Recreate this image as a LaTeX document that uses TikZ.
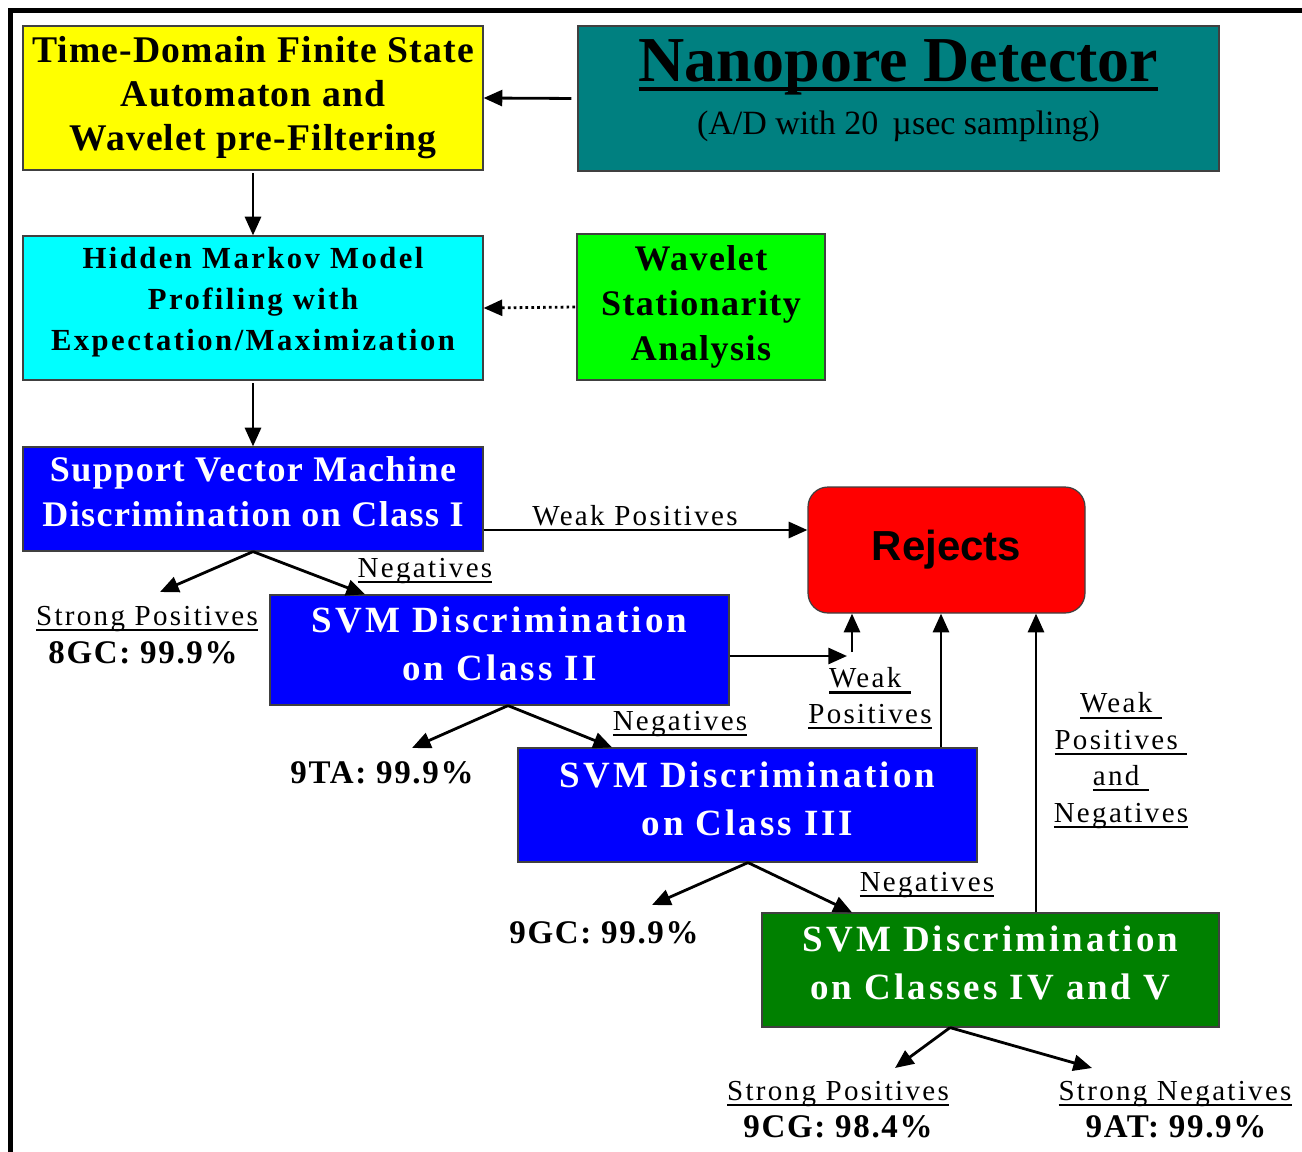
\documentclass[tikz,border=0pt]{standalone}
\usepackage{fontspec}
\setmainfont{Liberation Serif}
\newfontfamily\lsA[LetterSpace=3]{Liberation Serif}
\newfontfamily\lsC[LetterSpace=8]{Liberation Serif}
\newfontfamily\lsG[LetterSpace=4]{Liberation Serif}
\newfontfamily\lsB[LetterSpace=8]{Liberation Serif}
\newfontfamily\lsV[LetterSpace=5]{Liberation Serif}
\newfontfamily\lsL[LetterSpace=8]{Liberation Serif}
\newfontfamily\rejfont{Liberation Sans}
\usetikzlibrary{arrows.meta,calc}
\definecolor{nanoteal}{RGB}{0,128,128}
\definecolor{hmmcyan}{RGB}{0,255,255}
\definecolor{svmblue}{RGB}{0,0,255}
\definecolor{svmgreen}{RGB}{0,128,0}
\definecolor{wslime}{RGB}{0,255,0}
\definecolor{rejred}{RGB}{255,0,0}
\definecolor{fsayellow}{RGB}{255,255,0}
\newcommand\fYel{\lsA\bfseries\fontsize{28.25pt}{33pt}\selectfont}
\newcommand\fCya{\lsC\bfseries\fontsize{23pt}{30.75pt}\selectfont}
\newcommand\fGrn{\lsG\bfseries\fontsize{27pt}{33.75pt}\selectfont}
\newcommand\fBlA{\lsG\bfseries\fontsize{27pt}{33.75pt}\selectfont}
\newcommand\fBlB{\lsB\bfseries\fontsize{27.75pt}{36pt}\selectfont}
\newcommand\fLbl{\lsL\fontsize{21.75pt}{26.5pt}\selectfont}
\newcommand\fVal{\lsV\bfseries\fontsize{24.75pt}{27pt}\selectfont}
\newcommand\fRej{\rejfont\bfseries\fontsize{31.5pt}{36pt}\selectfont}
\newcommand\ulx[3]{\setbox0\hbox{#3}\rlap{\rule[#1]{\wd0}{#2}}\box0}
\newcommand\myul[1]{\ulx{-4.4pt}{1.6pt}{#1}}
\begin{document}
\begin{tikzpicture}[x=0.75pt,y=-0.75pt,
  box/.style={draw=black!75,line width=0.9pt,inner sep=0pt,align=center},
  arr/.style={-{Triangle[length=14pt,width=12pt]},line width=2.1pt},
  lbl/.style={font=\fLbl,inner sep=0pt,anchor=base,align=center},
  val/.style={font=\fVal,inner sep=0pt,anchor=base}]
\useasboundingbox (0,0) rectangle (1302,1152);
\fill[white] (0,0) rectangle (1302,1152);
\draw[line width=3.75pt] (10,1152) -- (10,11) -- (1302,11);

% boxes
\node[box,fill=fsayellow,minimum width=345pt,minimum height=108pt,font=\fYel] (fsa) at (253,98)
  {Time-Domain Finite State\\Automaton and\\Wavelet pre-Filtering};
\node[box,fill=nanoteal,minimum width=480.75pt,minimum height=108.75pt,text depth=17pt,
  font={\bfseries\fontsize{48pt}{40pt}\selectfont}] (nano) at (898.5,98.5)
  {\ulx{-7.5pt}{3pt}{Nanopore Detector}\\{\mdseries\fontsize{25.5pt}{30pt}\selectfont(A/D with 20 \,µsec sampling)}};
\node[box,fill=hmmcyan,minimum width=345pt,minimum height=108pt,text depth=14pt,font=\fCya] (hmm) at (253,308)
  {Hidden Markov Model\\Profiling with\\Expectation/Maximization};
\node[box,fill=wslime,minimum width=186pt,minimum height=109.5pt,font=\fGrn] (wsa) at (701,307)
  {Wavelet\\Stationarity\\Analysis};
\node[box,fill=svmblue,text=white,minimum width=345pt,minimum height=78pt,text depth=11pt,font=\fBlA] (svm1) at (253,499)
  {Support Vector Machine\\Discrimination on Class I};
\node[box,fill=rejred,rounded corners=15pt,minimum width=207.75pt,minimum height=94.5pt,font=\fRej] (rej) at (946.5,550)
  {Rejects};
\node[box,fill=svmblue,text=white,minimum width=344.25pt,minimum height=82.5pt,text depth=10pt,font=\fBlB] (svm2) at (499.5,650)
  {SVM Discrimination\\on Class II};
\node[box,fill=svmblue,text=white,minimum width=344.25pt,minimum height=85.5pt,text depth=10pt,font=\fBlB] (svm3) at (747.5,805)
  {SVM Discrimination\\on Class III};
\node[box,fill=svmgreen,text=white,minimum width=342.75pt,minimum height=85.5pt,text depth=11pt,font=\fBlB] (svm4) at (990.5,970)
  {SVM Discrimination\\on Classes IV and V};

% labels
\node[lbl] (lwp1) at (635,525) {Weak Positives};
\node[lbl] (lneg1) at (425,577) {\myul{Negatives}};
\node[lbl] (lsp1) at (147,625) {\myul{Strong Positives}};
\node[val] (v1) at (143,663) {8GC: 99.9\%};
\node[lbl] (lwp2) at (870,723) {\myul{Weak\ }\\\myul{Positives}};
\node[lbl] (lneg2) at (680,730) {\myul{Negatives}};
\node[val] (v2) at (382,783) {9TA: 99.9\%};
\node[lbl] (lneg3) at (927,891) {\myul{Negatives}};
\node[val] (v3) at (604,943) {9GC: 99.9\%};
\node[lbl,font={\lsL\fontsize{21.75pt}{27.3pt}\selectfont}] (lwpn) at (1121,822)
  {\myul{Weak\ }\\\myul{Positives\ }\\\myul{and\ }\\\myul{Negatives}};
\node[lbl] (lsp2) at (838,1100) {\myul{Strong Positives}};
\node[val] (v4) at (838,1137) {9CG: 98.4\%};
\node[lbl] (lsn) at (1175,1100) {\myul{Strong Negatives}};
\node[val] (v5) at (1176,1137) {9AT: 99.9\%};

% free ends
\coordinate (t1) at (160,592);
\coordinate (t2) at (847,656);
\coordinate (t2b) at (852,652);
\coordinate (t3) at (412,748);
\coordinate (t4) at (652,905);
\coordinate (t5) at (895,1068);
\coordinate (t6) at (1092,1068);

% connectors
\draw[arr,shorten <=4.5pt] (nano.west) -- (fsa.east);
\draw[arr,shorten <=2pt] (fsa.south) -- (hmm.north);
\draw[arr,dash pattern=on 2pt off 2.4pt,shorten <=1pt] (wsa.west) -- (hmm.east);
\draw[arr,shorten <=2pt] (hmm.south) -- (svm1.north);
\draw[arr] (svm1.east |- 0,530) -- (rej.west |- 0,530);
\draw[arr] (svm1.south) -- (t1);
\draw[arr] (svm1.south) -- (svm2.north -| 365,0);
\draw[arr] (svm2.east |- t2) -- (t2);
\draw[arr] (t2b) -- (rej.south -| t2b);
\draw[arr] (svm2.south -| 508,0) -- (t3);
\draw[arr] (svm2.south -| 508,0) -- (svm3.north -| 612,0);
\draw[arr] (svm3.north -| 941,0) -- (rej.south -| 941,0);
\draw[arr] (svm3.south -| 748,0) -- (t4);
\draw[arr] (svm3.south -| 748,0) -- (svm4.north -| 852,0);
\draw[arr] (svm4.north -| 1036,0) -- (rej.south -| 1036,0);
\draw[arr] (svm4.south -| 950,0) -- (t5);
\draw[arr] (svm4.south -| 950,0) -- (t6);
\end{tikzpicture}
\end{document}
